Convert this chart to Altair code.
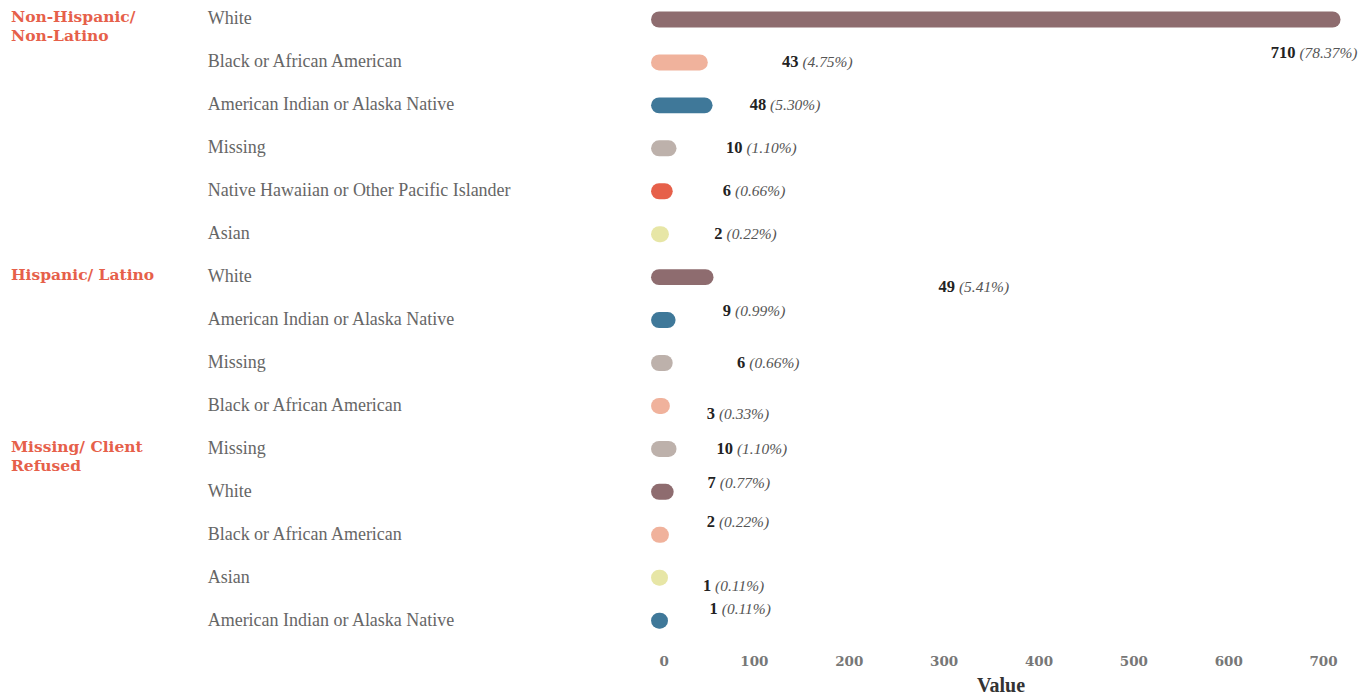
import altair as alt
import pandas as pd

# ---- data ----
groups = ["Non-Hispanic/\nNon-Latino"] * 6 + ["Hispanic/ Latino"] * 4 + ["Missing/ Client\nRefused"] * 5
races = [
    "White", "Black or African American", "American Indian or Alaska Native", "Missing",
    "Native Hawaiian or Other Pacific Islander", "Asian",
    "White", "American Indian or Alaska Native", "Missing", "Black or African American",
    "Missing", "White", "Black or African American", "Asian", "American Indian or Alaska Native",
]
values = [710, 43, 48, 10, 6, 2, 49, 9, 6, 3, 10, 7, 2, 1, 1]
percents = ["78.37%", "4.75%", "5.30%", "1.10%", "0.66%", "0.22%", "5.41%", "0.99%",
            "0.66%", "0.33%", "1.10%", "0.77%", "0.22%", "0.11%", "0.11%"]

# ---- style: label nudges (data units along x, rows along y) ----
label_nudge_x = [-37, 106, 67, 80, 72, 67, 265, 69, 87, 58, 70, 55, 59, 56, 63]
label_nudge_y = [0.79, 0, 0, 0, 0, 0, 0.23, -0.21, 0, 0.19, 0, -0.21, -0.30, 0.19, -0.26]

race_domain = ["White", "Black or African American", "American Indian or Alaska Native",
               "Missing", "Native Hawaiian or Other Pacific Islander", "Asian"]
race_colors = ["#8e6c6f", "#f0b29c", "#3f7899", "#bdb1ab", "#e6604a", "#e7e6a6"]

rows = list(range(len(values)))
df = pd.DataFrame({
    "row": rows,
    "group": groups,
    "race": races,
    "value": values,
    "pct": ["(" + p + ")" for p in percents],
    "lx": [v + n for v, n in zip(values, label_nudge_x)],
    "ly": [r + n for r, n in zip(rows, label_nudge_y)],
})
df["first"] = [i == 0 or groups[i] != groups[i - 1] for i in rows]

SERIF = "Liberation Serif"
WIDE = "DejaVu Serif"

xscale = alt.Scale(domain=[0, 720], nice=False, zero=True)
yscale = alt.Scale(domain=[-0.116, 14.58], reverse=True, nice=False, zero=False)

xaxis = alt.Axis(values=[0, 100, 200, 300, 400, 500, 600, 700], grid=False,
                 domain=False, ticks=False, labelPadding=9,
                 labelFont=WIDE, labelFontSize=13.5, labelFontWeight="bold",
                 labelColor="#777777", titleFont=SERIF, titleFontSize=20,
                 titleFontWeight="bold", titleColor="#333333", titlePadding=8)

base = alt.Chart(df)

bars = base.mark_rule(strokeWidth=16, strokeCap="round").encode(
    x=alt.X("value:Q", scale=xscale, title="Value", axis=xaxis),
    x2=alt.datum(0),
    y=alt.Y("row:Q", scale=yscale, axis=None),
    color=alt.Color("race:N", scale=alt.Scale(domain=race_domain, range=race_colors), legend=None),
)

val_text = base.mark_text(align="right", baseline="middle", dx=-2, font=SERIF,
                          fontSize=16.5, fontWeight="bold", color="#222222").encode(
    x=alt.X("lx:Q", scale=xscale, title="Value", axis=xaxis),
    y=alt.Y("ly:Q", scale=yscale, axis=None),
    text="value:Q")

pct_text = base.mark_text(align="left", baseline="middle", dx=2, font=SERIF,
                          fontSize=15.5, fontStyle="italic", color="#555555").encode(
    x=alt.X("lx:Q", scale=xscale, title="Value", axis=xaxis),
    y=alt.Y("ly:Q", scale=yscale, axis=None),
    text="pct:N")

cat_text = base.mark_text(align="left", baseline="middle", font=SERIF, fontSize=18,
                          color="#666666").encode(
    x=alt.value(-452), y=alt.Y("row:Q", scale=yscale, axis=None), text="race:N")

grp_text = base.transform_filter("datum.first").mark_text(
    align="left", baseline="top", font=WIDE, fontSize=15.5, fontWeight="bold",
    color="#e6604a", lineBreak="\n", lineHeight=19, dy=-9).encode(
    x=alt.value(-649), y=alt.Y("row:Q", scale=yscale, axis=None), text="group:N")

chart = alt.layer(bars, val_text, pct_text, cat_text, grp_text).properties(
    width=684, height=632,
    background="white",
    autosize=alt.AutoSizeParams(type="none"),
    padding={"left": 652, "top": 6, "right": 20, "bottom": 53},
).configure_view(stroke="transparent", strokeWidth=0)

chart.save("out.html", embed_options={"renderer": "svg", "actions": False})
